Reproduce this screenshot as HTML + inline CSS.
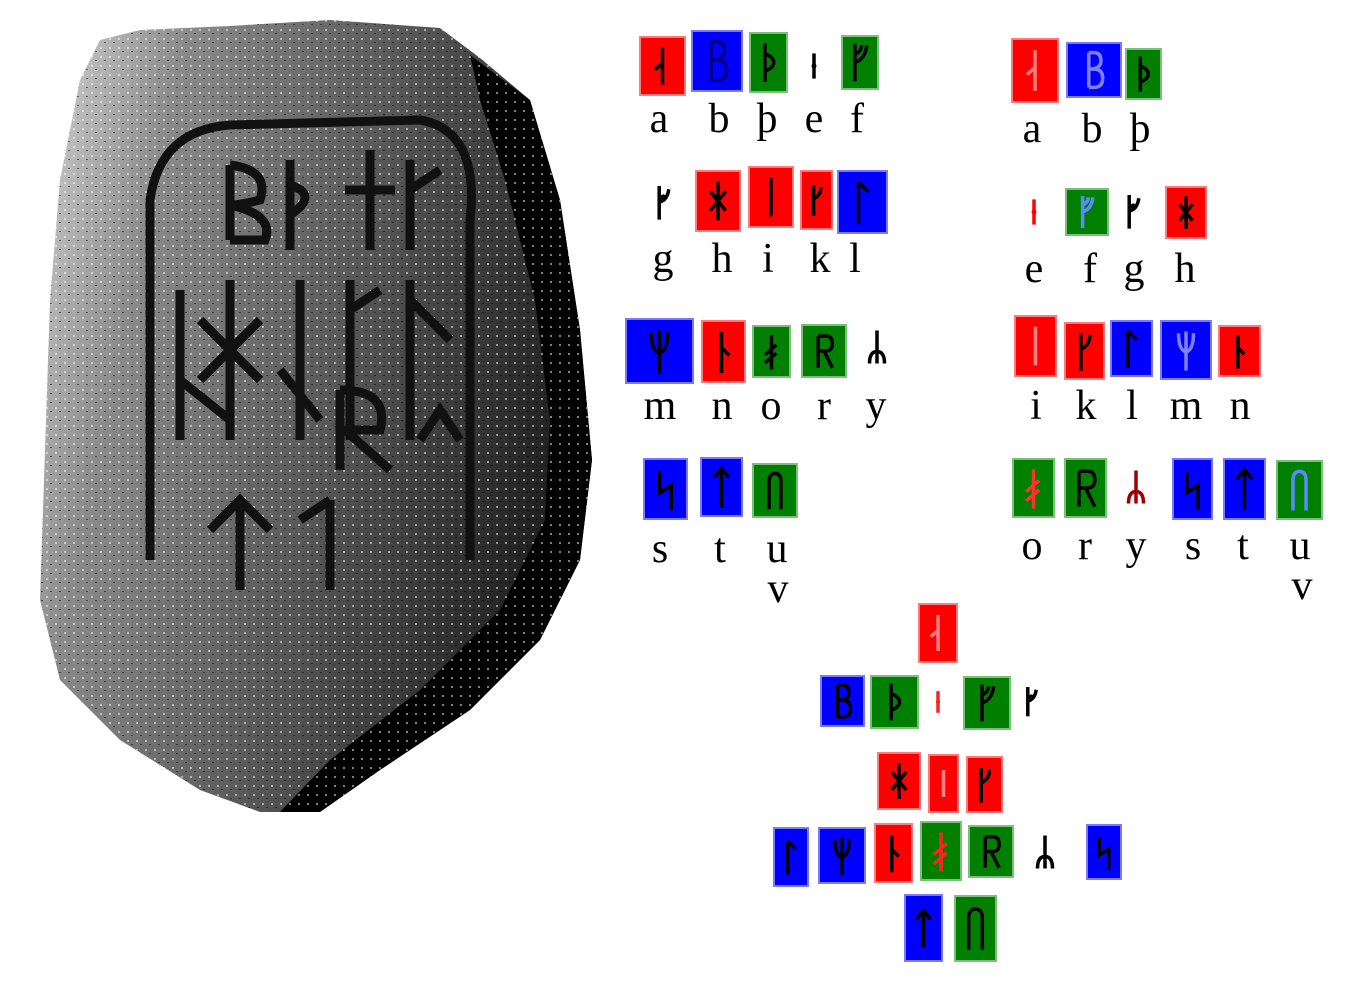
<!DOCTYPE html>
<html><head><meta charset="utf-8"><style>
html,body{margin:0;padding:0;background:#fff;}
#root{position:relative;width:1368px;height:985px;overflow:hidden;background:#fff;}
.box{position:absolute;box-sizing:border-box;}
.lbl{position:absolute;font-family:"Liberation Serif",serif;font-size:42px;line-height:1;color:#000;transform:translateX(-50%);}
</style></head><body>
<div id="root">
<svg width="600" height="830" style="position:absolute;left:0;top:0">
 <defs>
  <linearGradient id="sg" x1="0" x2="1" y1="0" y2="0.3">
   <stop offset="0" stop-color="#d8d8d8"/><stop offset="0.25" stop-color="#8a8a8a"/><stop offset="0.6" stop-color="#5a5a5a"/><stop offset="1" stop-color="#222"/>
  </linearGradient>
  <pattern id="spk" width="9" height="9" patternUnits="userSpaceOnUse">
   <rect width="9" height="9" fill="none"/><rect x="1" y="2" width="2" height="2" fill="#fff" opacity=".5"/><rect x="5" y="6" width="2" height="1" fill="#000" opacity=".5"/>
  </pattern>
 </defs>
 <path d="M100 40 L140 30 L230 26 L330 20 L440 28 L480 58 L530 100 L560 200 L580 330 L592 460 L580 560 L540 640 L470 710 L380 770 L320 812 L260 812 L200 790 L120 740 L60 680 L40 600 L45 450 L50 300 L60 180 L80 80 Z" fill="url(#sg)"/>
 <path d="M470 55 L530 100 L560 200 L580 330 L592 460 L580 560 L540 640 L470 710 L380 770 L320 812 L280 812 L330 760 L420 690 L500 610 L545 520 L550 420 L535 300 L505 180 L480 100 Z" fill="#000"/>
 <path d="M100 40 L140 30 L230 26 L330 20 L440 28 L480 58 L530 100 L560 200 L580 330 L592 460 L580 560 L540 640 L470 710 L380 770 L320 812 L260 812 L200 790 L120 740 L60 680 L40 600 L45 450 L50 300 L60 180 L80 80 Z" fill="url(#spk)"/>
 <g stroke="#111" stroke-width="9" fill="none">
  <path d="M150 560 L150 200 Q160 130 230 125 L420 120 Q480 130 470 220 L470 560"/>
  <path d="M230 165 V240 M230 165 Q270 170 260 200 Q240 205 230 205 Q275 215 265 240 H230"/>
  <path d="M290 160 V250 M290 185 Q320 195 290 215"/>
  <path d="M370 150 V250 M345 190 H395"/>
  <path d="M410 160 V250 M410 190 L440 170"/>
  <path d="M180 290 V440 M230 280 V440 M200 320 L260 380 M260 320 L200 380 M300 280 V440 M350 280 V440 M350 310 L380 290 M410 280 V440 M410 300 L450 340"/>
  <path d="M180 380 L230 420 M280 370 L320 420 M340 390 V470 M340 390 Q390 390 380 430 H345 L390 470 M420 440 L440 410 L460 440"/>
  <path d="M240 500 V590 M210 530 L240 500 L270 530 M330 500 V590 M300 520 L330 500"/>
 </g>
</svg>
</div>
<script>
const runes={
a:"M20 10V50 M20 27 L12 34",
b:"M14 10V50 M14 10H20 Q28 10 28 19.5 Q28 29 14 29 M14 29H20 Q30 29 30 39.5 Q30 50 20 50 H14",
th:"M16 8V52 M16 20 Q26 24 26 30 Q26 36 16 40",
e:"M20 12V48",
f:"M14 8V52 M14 30 Q26 26 28 10 M14 20 Q21 18 22 10",
g:"M14 10V52 M14 30 Q24 28 26 14",
h:"M20 10V50 M12 20 L28 40 M28 20 L12 40",
i:"M20 10V50",
k:"M16 10V52 M16 28 Q26 24 26 12",
l:"M16 10V52 M16 10 L26 20",
m:"M20 10V52 M12 12 Q12 30 20 32 Q28 30 28 12",
n:"M18 10V52 M18 26 L26 34",
o:"M20 10V52 M12 34 L26 22 M12 44 L26 32",
r:"M13 12V50 M13 12H22 Q30 12 30 21 Q30 30 22 30 H13 M20 30 L30 50",
y:"M20 8V52 M10 52 Q10 36 20 36 Q30 36 30 52",
s:"M14 12V34 L26 26 V52",
t:"M20 10V52 M12 20 L20 10 L28 20",
u:"M13 52V20 Q13 10 20 10 Q27 10 27 20 V52"};
const dots={e:[20,30],g:[19,24]};
const fills={R:["#ff0000","#ff7a7a"],B:["#0000ff","#7a7aff"],G:["#007f00","#7abf7a"]};
const boxes=[
["a","R",639,36,686,96,"#000"],["b","B",691,30,743,92,"#00008a"],["th","G",749,32,788,93,"#000"],["e","-",800,40,828,92,"#000"],["f","G",841,35,879,90,"#000"],
["g","-",648,172,680,232,"#000"],["h","R",695,170,741,232,"#000"],["i","R",748,166,794,228,"#000"],["k","R",800,170,833,230,"#000"],["l","B",837,170,888,234,"#000"],
["m","B",625,318,694,384,"#000"],["n","R",701,320,746,383,"#000"],["o","G",752,325,791,378,"#000"],["r","G",801,324,847,378,"#000"],["y","-",862,322,892,372,"#000"],
["s","B",643,458,688,520,"#000"],["t","B",700,457,743,517,"#000"],["u","G",752,463,798,518,"#000"],
["a","R",1011,38,1059,103,"#ff8080"],["b","B",1066,42,1122,98,"#8080ff"],["th","G",1125,48,1162,100,"#000"],
["e","-",1020,186,1048,238,"#ff0000"],["f","G",1065,188,1109,236,"#5a8aff"],["g","-",1118,186,1150,236,"#000"],["h","R",1165,186,1207,239,"#000"],
["i","R",1014,315,1057,377,"#ff8080"],["k","R",1064,322,1105,380,"#000"],["l","B",1110,320,1153,377,"#000"],["m","B",1160,320,1212,380,"#8080ff"],["n","R",1218,325,1261,377,"#000"],
["o","G",1012,458,1055,518,"#ff3030"],["r","G",1064,458,1107,518,"#000"],["y","-",1121,462,1151,512,"#a00000"],["s","B",1172,458,1213,520,"#000"],["t","B",1223,458,1266,520,"#000"],["u","G",1276,460,1323,520,"#5a8aff"],
["a","R",918,603,958,663,"#ff8080"],["b","B",820,675,865,727,"#000"],["th","G",870,675,919,729,"#000"],["e","-",926,676,950,728,"#ff2020"],["f","G",963,676,1011,730,"#000"],["g","-",1018,676,1046,726,"#000"],
["h","R",877,752,921,810,"#000"],["i","R",928,754,959,813,"#ff8080"],["k","R",966,756,1003,813,"#000"],
["l","B",773,827,809,887,"#000"],["m","B",818,827,866,884,"#000"],["n","R",874,823,913,883,"#000"],["o","G",920,821,962,881,"#ff2020"],["r","G",968,825,1014,878,"#000"],["y","-",1030,828,1060,876,"#000"],["s","B",1086,824,1122,880,"#000"],
["t","B",904,894,943,962,"#000"],["u","G",954,895,997,962,"#000"]];
const labels=[["a",659,98],["b",719,98],["þ",767,98],["e",814,98],["f",857,98],
["g",663,238],["h",722,238],["i",768,238],["k",820,238],["l",855,238],
["m",660,385],["n",722,385],["o",771,385],["r",824,385],["y",876,385],
["s",660,528],["t",720,528],["u",777,528],["v",778,568],
["a",1032,108],["b",1092,108],["þ",1140,108],
["e",1034,248],["f",1090,248],["g",1134,248],["h",1185,248],
["i",1036,385],["k",1086,385],["l",1132,385],["m",1186,385],["n",1240,385],
["o",1032,525],["r",1085,525],["y",1136,525],["s",1193,525],["t",1243,525],["u",1300,525],["v",1302,565]];
const root=document.getElementById('root');
const NS="http://www.w3.org/2000/svg";
boxes.forEach(b=>{
 const [rn,c,x1,y1,x2,y2,gc]=b;
 const d=document.createElement('div');
 d.className='box';
 d.style.left=x1+'px';d.style.top=y1+'px';d.style.width=(x2-x1)+'px';d.style.height=(y2-y1)+'px';
 if(c!=='-'){d.style.background=fills[c][0];d.style.border='2px solid '+fills[c][1];}
 
 
 const s=document.createElementNS(NS,'svg');
 s.setAttribute('viewBox','0 0 40 60');
 s.setAttribute('width','100%');s.setAttribute('height','100%');
 s.style.position='absolute';s.style.left='0';s.style.top='0';
 const p=document.createElementNS(NS,'path');
 p.setAttribute('d',runes[rn]);p.setAttribute('stroke',gc);p.setAttribute('stroke-width','3.5');p.setAttribute('fill','none');
 p.setAttribute('vector-effect','non-scaling-stroke');
 s.appendChild(p);
 if(dots[rn]){const ci=document.createElementNS(NS,'circle');ci.setAttribute('cx',dots[rn][0]);ci.setAttribute('cy',dots[rn][1]);ci.setAttribute('r','3.5');ci.setAttribute('fill',gc);s.appendChild(ci);}
 d.appendChild(s);
 root.appendChild(d);
});
labels.forEach(l=>{
 const d=document.createElement('div');
 d.className='lbl';
 d.textContent=l[0];
 d.style.left=l[1]+'px';d.style.top=l[2]+'px';
 
 
 root.appendChild(d);
});
</script>
</body></html>
